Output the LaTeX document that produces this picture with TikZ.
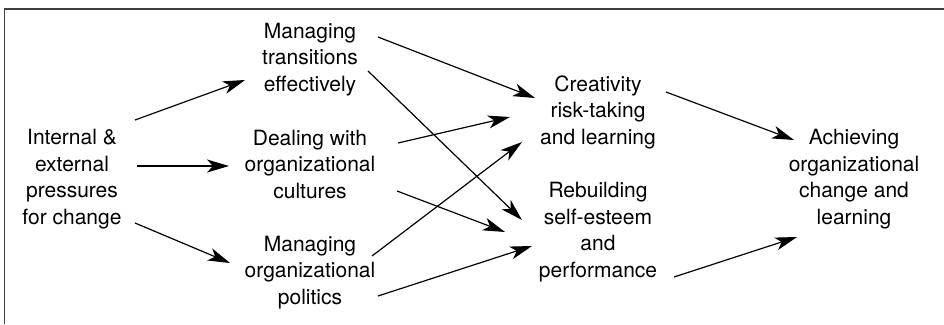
\documentclass[tikz,border=0pt]{standalone}
\usepackage{fontspec}
\setmainfont{TeX Gyre Heros}
\usetikzlibrary{arrows.meta}
\begin{document}
\begin{tikzpicture}[x=1pt,y=-1pt,
  lbl/.style={font=\fontsize{21}{26.5}\selectfont, align=center, inner sep=0pt,
    execute at begin node={\rule{0pt}{22.5pt}}, execute at end node=\strut},
  arr/.style={line width=1.2pt, -{Stealth[length=22pt,width=13pt,inset=6pt]}},
  frame/.style={line width=1.3pt, draw=black!75}]
\useasboundingbox (0,0) rectangle (944,324);
\coordinate (fa) at (4.7,324);
\coordinate (fb) at (4.7,9);
\coordinate (fc) at (944,9);
\draw[frame] (fa) -- (fb) -- (fc);

\node[lbl] (in)  at (72,181)  {Internal \&\\external\\pressures\\for change};
\node[lbl] (mt)  at (310,61)  {Managing\\transitions\\effectively};
\node[lbl] (dc)  at (310,168) {Dealing with\\organizational\\cultures};
\node[lbl] (mp)  at (310,274) {Managing\\organizational\\politics};
\node[lbl] (cr)  at (598,114) {Creativity\\risk-taking\\and learning};
\node[lbl] (rb)  at (598,234) {Rebuilding\\self-esteem\\and\\performance};
\node[lbl] (ach) at (854,181) {Achieving\\organizational\\change and\\learning};

\draw[arr] ([shift={(63,-61)}]in.center) -- ([shift={(-65,19)}]mt.center);
\draw[arr] ([shift={(65,-15)}]in.center) -- ([shift={(-81,-2)}]dc.center);
\draw[arr] ([shift={(63,42)}]in.center) -- ([shift={(-80,-11)}]mp.center);
\draw[arr] ([shift={(68,-24)}]mt.center) -- ([shift={(-63,-16)}]cr.center);
\draw[arr] ([shift={(58,10)}]mt.center) -- ([shift={(-76,-14)}]rb.center);
\draw[arr] ([shift={(88,-25)}]dc.center) -- ([shift={(-88,3)}]cr.center);
\draw[arr] ([shift={(87,23)}]dc.center) -- ([shift={(-93,-2)}]rb.center);
\draw[arr] ([shift={(62,-18)}]mp.center) -- ([shift={(-76,28)}]cr.center);
\draw[arr] ([shift={(68,22)}]mp.center) -- ([shift={(-66,12)}]rb.center);
\draw[arr] ([shift={(68,-22)}]cr.center) -- ([shift={(-60,-41)}]ach.center);
\draw[arr] ([shift={(76,43)}]rb.center) -- ([shift={(-57,56)}]ach.center);
\end{tikzpicture}
\end{document}
